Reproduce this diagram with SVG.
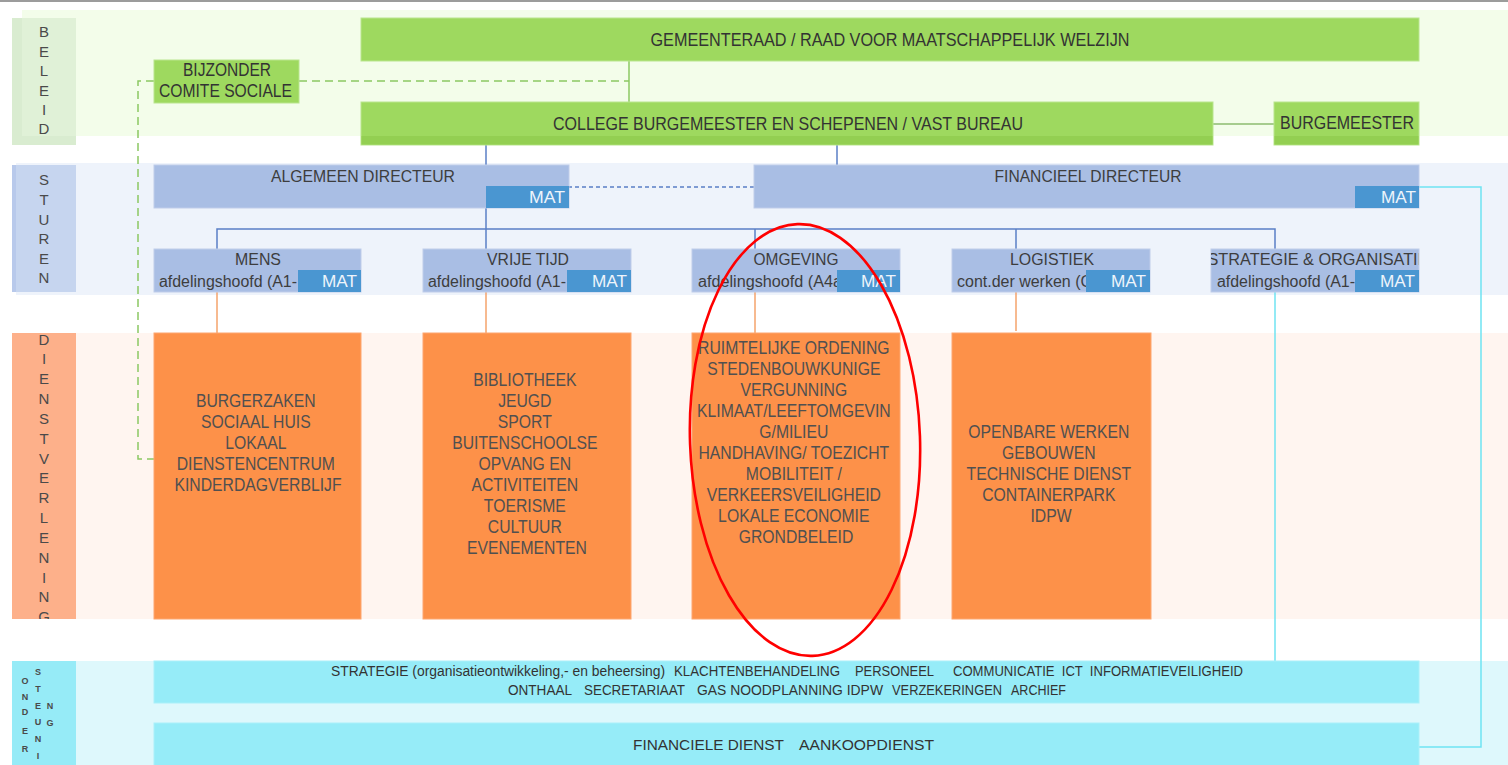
<svg xmlns="http://www.w3.org/2000/svg" width="1508" height="765" viewBox="0 0 1508 765">
<defs>
<style>
text{font-family:"Liberation Sans",Arial,sans-serif;fill:#3d3d3d}
.hd{font-size:18px;text-anchor:middle;fill:#333}
.dt{font-size:17px;text-anchor:middle}
.sub{font-size:16px}
.mat{font-size:16px;fill:#eef4fb;text-anchor:end}
.vl{font-size:15px;text-anchor:middle;fill:#4a4a4a}
.vs{font-size:9px;font-weight:bold;text-anchor:middle;fill:#4a4a4a}
.or{font-size:18px;text-anchor:middle;fill:#505050}
.bt{font-size:14px;fill:#333}
.g{fill:#9ed95f;stroke:#b9e58e;stroke-width:1}
.gs{fill:#93cf52}
.b{fill:#a9bee4;stroke:#bfcdea;stroke-width:1}
.m{fill:#4a96d1}
.o{fill:#fd9149;stroke:#fda670;stroke-width:1}
.c{fill:#96ecf8;stroke:#aaf0f9;stroke-width:1}
.cn{fill:none;stroke-width:1.5}
.gl{stroke:#8cc863}
.bl{stroke:#5a7fc6}
.ol{stroke:#f5a36b}
.cl{stroke:#6fe3f2}
</style>
<clipPath id="clipStrat"><rect x="1211" y="249" width="208" height="43"/></clipPath>
<clipPath id="clipDienst"><rect x="12" y="335" width="64" height="284"/></clipPath>
<clipPath id="clipOnder"><rect x="12" y="661" width="64" height="104"/></clipPath>
</defs>

<rect x="0" y="0" width="1508" height="765" fill="#ffffff"/>
<rect x="0" y="0" width="1508" height="2" fill="#9c9c9c"/>

<g id="bands">
  <rect x="22" y="10" width="1486" height="126" fill="#f3fdea"/>
  <rect x="12" y="18" width="64" height="127" fill="#d9ecd0"/>
  <rect x="22" y="18" width="54" height="118" fill="#e0f1d7"/>
  <rect x="16" y="163" width="1492" height="132" fill="#eef3fb"/>
  <rect x="12" y="165" width="64" height="127" fill="#c6d5ef"/>
  <rect x="12" y="165" width="4" height="127" fill="#b8c9eb"/>
  <rect x="76" y="333" width="1432" height="286" fill="#fff5f0"/>
  <rect x="12" y="333" width="64" height="286" fill="#fdb08a"/>
  <rect x="76" y="661" width="1432" height="104" fill="#def8fc"/>
  <rect x="12" y="661" width="64" height="104" fill="#96ebf7"/>
</g>

<g id="band-labels">
  <g>
    <text class="vl" x="44" y="37.4">B</text>
    <text class="vl" x="44" y="56.8">E</text>
    <text class="vl" x="44" y="76.2">L</text>
    <text class="vl" x="44" y="95.6">E</text>
    <text class="vl" x="44" y="115">I</text>
    <text class="vl" x="44" y="134.4">D</text>
  </g>
  <g>
    <text class="vl" x="44" y="185.4">S</text>
    <text class="vl" x="44" y="205">T</text>
    <text class="vl" x="44" y="224.6">U</text>
    <text class="vl" x="44" y="244.2">R</text>
    <text class="vl" x="44" y="263.8">E</text>
    <text class="vl" x="44" y="283.4">N</text>
  </g>
  <g clip-path="url(#clipDienst)">
    <text class="vl" x="44" y="344.6">D</text>
    <text class="vl" x="44" y="364.4">I</text>
    <text class="vl" x="44" y="384.3">E</text>
    <text class="vl" x="44" y="404.1">N</text>
    <text class="vl" x="44" y="423.9">S</text>
    <text class="vl" x="44" y="443.8">T</text>
    <text class="vl" x="44" y="463.6">V</text>
    <text class="vl" x="44" y="483.4">E</text>
    <text class="vl" x="44" y="503.2">R</text>
    <text class="vl" x="44" y="523.1">L</text>
    <text class="vl" x="44" y="542.9">E</text>
    <text class="vl" x="44" y="562.7">N</text>
    <text class="vl" x="44" y="582.6">I</text>
    <text class="vl" x="44" y="602.4">N</text>
    <text class="vl" x="44" y="622.2">G</text>
  </g>
  <g clip-path="url(#clipOnder)">
    <text class="vs" x="25" y="683.5">O</text>
    <text class="vs" x="25" y="700.2">N</text>
    <text class="vs" x="25" y="715.2">D</text>
    <text class="vs" x="25" y="733.5">E</text>
    <text class="vs" x="25" y="751.5">R</text>
    <text class="vs" x="38" y="675.2">S</text>
    <text class="vs" x="38" y="691.5">T</text>
    <text class="vs" x="38" y="708.5">E</text>
    <text class="vs" x="38" y="724.5">U</text>
    <text class="vs" x="38" y="741.5">N</text>
    <text class="vs" x="38" y="758.5">I</text>
    <text class="vs" x="50" y="708.5">N</text>
    <text class="vs" x="50" y="725.5">G</text>
  </g>
</g>

<g id="connectors">
  <polyline class="cn gl" points="299,81 629,81" stroke-dasharray="8,5"/>
  <polyline class="cn gl" points="154,81 138,81 138,459 154,459" stroke-dasharray="8,5"/>
  <line class="cn gl" x1="629" y1="61" x2="629" y2="102"/>
  <line class="cn" stroke="#8dbb6f" x1="1213" y1="124" x2="1274" y2="124"/>
  <line class="cn bl" x1="486" y1="145" x2="486" y2="249"/>
  <line class="cn bl" x1="837" y1="145" x2="837" y2="165"/>
  <polyline class="cn bl" points="217,249 217,229 1275,229 1275,249"/>
  <line class="cn bl" x1="755" y1="229" x2="755" y2="249"/>
  <line class="cn bl" x1="1016" y1="229" x2="1016" y2="249"/>
  <line class="cn bl" x1="568" y1="187" x2="754" y2="187" stroke-dasharray="4,3"/>
  <line class="cn ol" x1="217" y1="292" x2="217" y2="333"/>
  <line class="cn ol" x1="486" y1="292" x2="486" y2="333"/>
  <line class="cn ol" x1="755" y1="292" x2="755" y2="333"/>
  <line class="cn ol" x1="1016" y1="292" x2="1016" y2="331"/>
  <line class="cn" stroke="#8f9fc8" x1="488" y1="355" x2="488" y2="373"/>
  <line class="cn cl" x1="1275" y1="292" x2="1275" y2="661"/>
  <polyline class="cn cl" points="1419,187 1481,187 1481,747 1419,747"/>
</g>

<g id="gemeenteraad">
  <rect class="g" x="361" y="18" width="1058" height="43"/>
  <text class="hd" x="890" y="46" textLength="479" lengthAdjust="spacingAndGlyphs">GEMEENTERAAD / RAAD VOOR MAATSCHAPPELIJK WELZIJN</text>
</g>
<g id="bijzonder-comite">
  <rect class="g" x="154" y="60" width="145" height="43"/>
  <text class="hd" x="227" y="76" textLength="88" lengthAdjust="spacingAndGlyphs">BIJZONDER</text>
  <text class="hd" x="225.5" y="97" textLength="133" lengthAdjust="spacingAndGlyphs">COMITE SOCIALE</text>
</g>
<g id="college">
  <rect class="g" x="361" y="102" width="852" height="43"/>
  <rect class="gs" x="361.5" y="136" width="851" height="8.5"/>
  <text class="hd" x="788" y="130" textLength="470" lengthAdjust="spacingAndGlyphs">COLLEGE BURGEMEESTER EN SCHEPENEN / VAST BUREAU</text>
</g>
<g id="burgemeester">
  <rect class="g" x="1274" y="102" width="145" height="43"/>
  <rect class="gs" x="1274.5" y="136" width="144" height="8.5"/>
  <text class="hd" x="1347" y="129" textLength="134" lengthAdjust="spacingAndGlyphs">BURGEMEESTER</text>
</g>

<g id="algemeen-directeur">
  <rect class="b" x="154" y="165" width="415" height="43"/>
  <rect class="m" x="486" y="186" width="83" height="22"/>
  <text class="dt" x="363" y="182" textLength="184" lengthAdjust="spacingAndGlyphs">ALGEMEEN DIRECTEUR</text>
  <text class="mat" x="565" y="203" textLength="36" lengthAdjust="spacingAndGlyphs">MAT</text>
</g>
<g id="financieel-directeur">
  <rect class="b" x="754" y="165" width="665" height="43"/>
  <rect class="m" x="1355" y="186" width="64" height="22"/>
  <text class="dt" x="1088" y="182" textLength="187" lengthAdjust="spacingAndGlyphs">FINANCIEEL DIRECTEUR</text>
  <text class="mat" x="1416" y="203" textLength="35" lengthAdjust="spacingAndGlyphs">MAT</text>
</g>

<g id="mens">
  <rect class="b" x="154" y="249" width="207" height="43"/>
  <text class="dt" x="258" y="265" textLength="46" lengthAdjust="spacingAndGlyphs">MENS</text>
  <text class="sub" x="159" y="287" textLength="138" lengthAdjust="spacingAndGlyphs">afdelingshoofd (A1-</text>
  <rect class="m" x="298" y="270" width="63" height="22"/>
  <text class="mat" x="357" y="287" textLength="35" lengthAdjust="spacingAndGlyphs">MAT</text>
</g>
<g id="vrije-tijd">
  <rect class="b" x="423" y="249" width="208" height="43"/>
  <text class="dt" x="528" y="265" textLength="82" lengthAdjust="spacingAndGlyphs">VRIJE TIJD</text>
  <text class="sub" x="428" y="287" textLength="138" lengthAdjust="spacingAndGlyphs">afdelingshoofd (A1-</text>
  <rect class="m" x="567" y="270" width="64" height="22"/>
  <text class="mat" x="627" y="287" textLength="35" lengthAdjust="spacingAndGlyphs">MAT</text>
</g>
<g id="omgeving">
  <rect class="b" x="692" y="249" width="208" height="43"/>
  <text class="dt" x="796" y="265" textLength="85" lengthAdjust="spacingAndGlyphs">OMGEVING</text>
  <text class="sub" x="698" y="287" textLength="144" lengthAdjust="spacingAndGlyphs">afdelingshoofd (A4a</text>
  <rect class="m" x="837" y="270" width="63" height="22"/>
  <text class="mat" x="896" y="287" textLength="35" lengthAdjust="spacingAndGlyphs">MAT</text>
</g>
<g id="logistiek">
  <rect class="b" x="952" y="249" width="198" height="43"/>
  <text class="dt" x="1052" y="265" textLength="84" lengthAdjust="spacingAndGlyphs">LOGISTIEK</text>
  <text class="sub" x="957" y="287" textLength="135" lengthAdjust="spacingAndGlyphs">cont.der werken (C</text>
  <rect class="m" x="1086" y="270" width="64" height="22"/>
  <text class="mat" x="1146" y="287" textLength="35" lengthAdjust="spacingAndGlyphs">MAT</text>
</g>
<g id="strategie-organisatie">
  <rect class="b" x="1211" y="249" width="208" height="43"/>
  <g clip-path="url(#clipStrat)">
    <text class="dt" x="1318" y="265" textLength="221" lengthAdjust="spacingAndGlyphs">STRATEGIE &amp; ORGANISATIE</text>
  </g>
  <text class="sub" x="1217" y="287" textLength="138" lengthAdjust="spacingAndGlyphs">afdelingshoofd (A1-</text>
  <rect class="m" x="1355" y="270" width="64" height="22"/>
  <text class="mat" x="1415" y="287" textLength="35" lengthAdjust="spacingAndGlyphs">MAT</text>
</g>

<g id="dienst-mens">
  <rect class="o" x="154" y="333" width="207" height="286"/>
  <g transform="translate(258 0) scale(0.875 1)">
    <text class="or">
      <tspan x="0" y="407">BURGERZAKEN</tspan>
      <tspan x="0" y="428">SOCIAAL HUIS</tspan>
      <tspan x="0" y="449">LOKAAL</tspan>
      <tspan x="0" y="470">DIENSTENCENTRUM</tspan>
      <tspan x="0" y="491">KINDERDAGVERBLIJF</tspan>
    </text>
  </g>
</g>
<g id="dienst-vrije-tijd">
  <rect class="o" x="423" y="333" width="208" height="286"/>
  <g transform="translate(527 0) scale(0.875 1)">
    <text class="or">
      <tspan x="0" y="386">BIBLIOTHEEK</tspan>
      <tspan x="0" y="407">JEUGD</tspan>
      <tspan x="0" y="428">SPORT</tspan>
      <tspan x="0" y="449">BUITENSCHOOLSE</tspan>
      <tspan x="0" y="470">OPVANG EN</tspan>
      <tspan x="0" y="491">ACTIVITEITEN</tspan>
      <tspan x="0" y="512">TOERISME</tspan>
      <tspan x="0" y="533">CULTUUR</tspan>
      <tspan x="0" y="554">EVENEMENTEN</tspan>
    </text>
  </g>
</g>
<g id="dienst-omgeving">
  <rect class="o" x="692" y="333" width="208" height="286"/>
  <g transform="translate(796 0) scale(0.875 1)">
    <text class="or">
      <tspan x="0" y="354">RUIMTELIJKE ORDENING</tspan>
      <tspan x="0" y="375">STEDENBOUWKUNIGE</tspan>
      <tspan x="0" y="396">VERGUNNING</tspan>
      <tspan x="0" y="417">KLIMAAT/LEEFTOMGEVIN</tspan>
      <tspan x="0" y="438">G/MILIEU</tspan>
      <tspan x="0" y="459">HANDHAVING/ TOEZICHT</tspan>
      <tspan x="0" y="480">MOBILITEIT /</tspan>
      <tspan x="0" y="501">VERKEERSVEILIGHEID</tspan>
      <tspan x="0" y="522">LOKALE ECONOMIE</tspan>
      <tspan x="0" y="543">GRONDBELEID</tspan>
    </text>
  </g>
</g>
<g id="dienst-logistiek">
  <rect class="o" x="952" y="333" width="199" height="286"/>
  <g transform="translate(1051 0) scale(0.875 1)">
    <text class="or">
      <tspan x="0" y="438">OPENBARE WERKEN</tspan>
      <tspan x="0" y="459">GEBOUWEN</tspan>
      <tspan x="0" y="480">TECHNISCHE DIENST</tspan>
      <tspan x="0" y="501">CONTAINERPARK</tspan>
      <tspan x="0" y="522">IDPW</tspan>
    </text>
  </g>
</g>

<g id="ondersteuning-algemeen">
  <rect class="c" x="154" y="661" width="1265" height="42"/>
  <text class="bt" xml:space="preserve"><tspan x="331" y="676" textLength="334" lengthAdjust="spacingAndGlyphs">STRATEGIE (organisatieontwikkeling,- en beheersing)</tspan><tspan x="674" y="676" textLength="166" lengthAdjust="spacingAndGlyphs">KLACHTENBEHANDELING</tspan><tspan x="855" y="676" textLength="79" lengthAdjust="spacingAndGlyphs">PERSONEEL</tspan><tspan x="953" y="676" textLength="290" lengthAdjust="spacingAndGlyphs">COMMUNICATIE  ICT  INFORMATIEVEILIGHEID</tspan></text>
  <text class="bt" xml:space="preserve"><tspan x="508" y="695" textLength="64" lengthAdjust="spacingAndGlyphs">ONTHAAL</tspan><tspan x="584" y="695" textLength="101" lengthAdjust="spacingAndGlyphs">SECRETARIAAT</tspan><tspan x="697" y="695" textLength="186" lengthAdjust="spacingAndGlyphs">GAS NOODPLANNING IDPW</tspan><tspan x="892" y="695" textLength="110" lengthAdjust="spacingAndGlyphs">VERZEKERINGEN</tspan><tspan x="1011" y="695" textLength="55" lengthAdjust="spacingAndGlyphs">ARCHIEF</tspan></text>
</g>
<g id="financiele-dienst">
  <rect class="c" x="154" y="723" width="1265" height="50"/>
  <text class="bt" xml:space="preserve"><tspan x="633" y="750" textLength="151" lengthAdjust="spacingAndGlyphs">FINANCIELE DIENST</tspan><tspan x="799" y="750" textLength="135" lengthAdjust="spacingAndGlyphs">AANKOOPDIENST</tspan></text>
</g>

<g id="highlight">
  <ellipse cx="805" cy="440" rx="115" ry="216" fill="none" stroke="#ff0000" stroke-width="2.6" transform="rotate(-2 805 440)"/>
</g>
</svg>
